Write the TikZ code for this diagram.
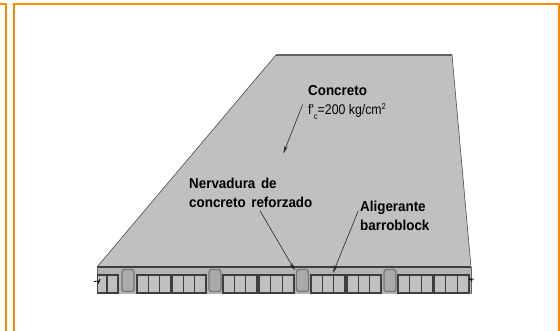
\documentclass[tikz,border=0pt]{standalone}
\usepackage{fontspec}
\setmainfont{Liberation Sans}
\newfontfamily\narrowbold[FakeStretch=0.93,WordSpace=1.5]{Liberation Sans Bold}
\newfontfamily\narrowreg[FakeStretch=0.88]{Liberation Sans}
\usetikzlibrary{arrows.meta}
\definecolor{frameor}{RGB}{255,136,0}
\definecolor{slabgrey}{RGB}{192,192,192}
\definecolor{stripgrey}{RGB}{180,180,180}
\definecolor{edgegrey}{RGB}{62,62,62}
\definecolor{ribgrey}{RGB}{170,170,170}
\tikzset{
  x=1pt,y=-1pt,
  frameline/.style={draw=frameor,line width=2.6pt},
  slabface/.style={fill=slabgrey,draw=black!70,line width=0.6pt,line join=round},
  cellbox/.style={draw=edgegrey,fill=slabgrey,line width=1.5pt},
  ribcap/.style={draw=ribgrey!70!black,fill=ribgrey,line width=1.3pt,rounded corners=2.5pt},
  lead/.style={draw=black!85,line width=0.6pt,-{Stealth[length=8pt,width=3.4pt]}},
  bold/.style={font=\narrowbold\fontsize{14.4}{19.5}\selectfont,align=left,anchor=base west,inner sep=0pt},
  plain/.style={font=\narrowreg\fontsize{14}{17}\selectfont,anchor=base west,inner sep=0pt}
}
\newcommand{\blockgroup}[2]{%
  \pgfmathsetmacro{\wcell}{((#2)-(#1))/3}
  \foreach \k in {0,1,2}{
    \pgfmathsetmacro{\xa}{#1+\k*\wcell}
    \pgfmathsetmacro{\xb}{\xa+\wcell}
    \draw[cellbox] (\xa,275.5) rectangle (\xb,293);
  }
  \draw[edgegrey,line width=1.7pt] (#1,275) rectangle (#2,293.4);
}
\begin{document}
\begin{tikzpicture}
\useasboundingbox (0,0) rectangle (560,331);
\fill[white] (0,0) rectangle (560,331);
% frames
\draw[frameline] (-3,4) -- (6,4) -- (6,331);
\draw[frameline] (14,331) -- (14,4) -- (559,4) -- (559,331);
% slab top
\path[slabface] (97,267) -- (276,55) -- (452,55) -- (471,267) -- cycle;
\draw[black!62,line width=1.2pt] (276,55) -- (452,55);
% slab front
\fill[stripgrey] (97,267) rectangle (471,294);
\draw[edgegrey,line width=1.2pt] (97,267) -- (471,267);
\draw[edgegrey!80,line width=0.7pt] (97,267) -- (97,294);
\draw[edgegrey!80,line width=0.8pt] (471,267) -- (471,294);
% blocks
\draw[cellbox] (97.5,275.5) rectangle (107,293);
\draw[cellbox] (107,275.5) rectangle (118,293);
\draw[edgegrey,line width=1.7pt] (97.5,275) rectangle (118,293.4);
\blockgroup{137}{171}
\blockgroup{172}{206}
\blockgroup{223}{257}
\blockgroup{259}{294}
\blockgroup{311}{345}
\blockgroup{347}{381}
\blockgroup{398}{433}
\blockgroup{434}{469}
% ribs
\draw[ribcap] (122,269.5) rectangle (134,291.5);
\draw[ribcap] (209,269.5) rectangle (221,291.5);
\draw[ribcap] (296.5,269.5) rectangle (308.5,291.5);
\draw[ribcap] (384,269.5) rectangle (396,291.5);
% cut marks
\draw[black,line width=0.8pt] (94,281.5) -- (100,281);
\draw[black,line width=0.8pt] (100,279) -- (98,284);
\draw[black,line width=0.8pt] (469,279.5) -- (474,279);
\draw[black,line width=0.8pt] (471,278) -- (472,282);
% labels
\node[bold] (conc) at (308,96) {Concreto};
\node[plain] (fc) at (308,115) {f'\raisebox{-4.5pt}{\fontsize{8.5}{8}\selectfont c}=200 kg/cm\raisebox{5pt}{\fontsize{8.5}{8}\selectfont 2}};
\node[bold] (nerv) at (189,208) {Nervadura de\\concreto reforzado};
\node[bold] (alig) at (360,231) {Aligerante\\barroblock};
\coordinate (c1) at (302.7,104.5);
\coordinate (c2) at (283.3,153.5);
\coordinate (n1) at (260,210.7);
\coordinate (n2) at (295,270.5);
\coordinate (a1) at (358.3,210.7);
\coordinate (a2) at (333,273);
\draw[lead] (c1) -- (c2);
\draw[lead] (n1) -- (n2);
\draw[lead] (a1) -- (a2);
\end{tikzpicture}
\end{document}
